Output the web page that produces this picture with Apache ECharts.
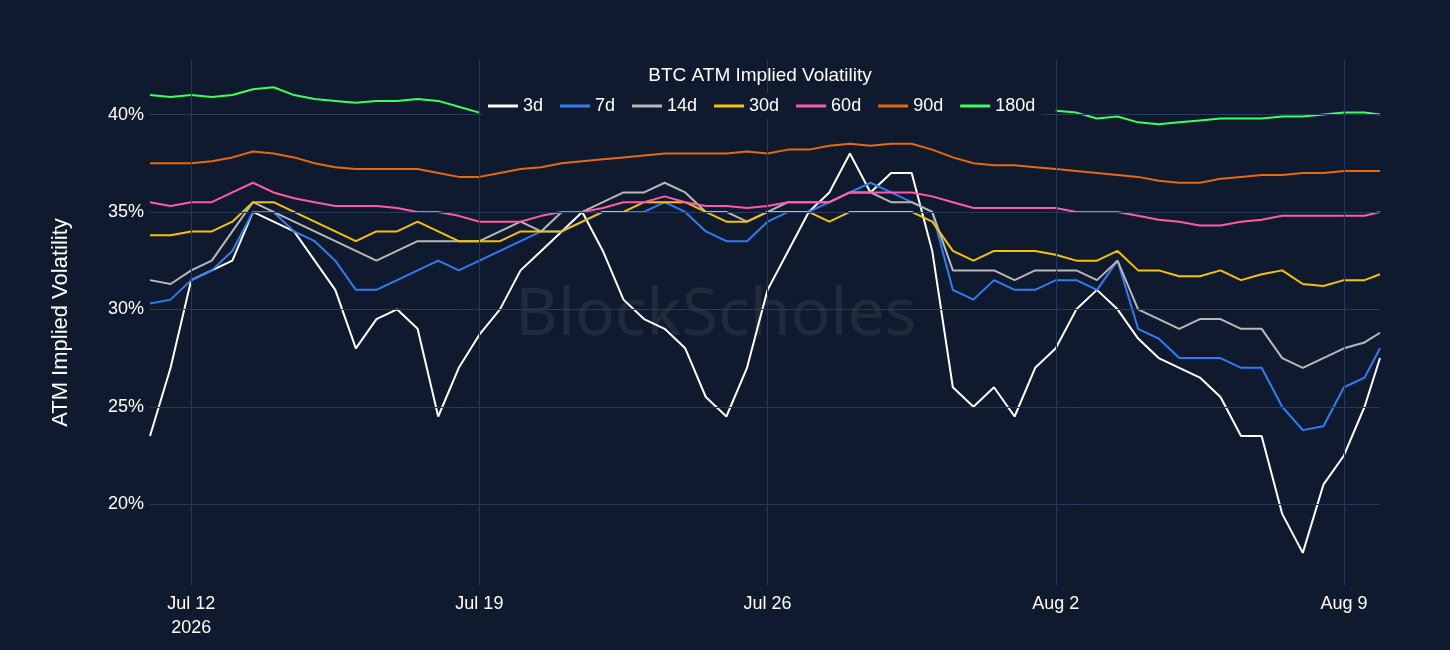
<!DOCTYPE html>
<html><head><meta charset="utf-8">
<script src="https://cdn.jsdelivr.net/npm/echarts@6/dist/echarts.min.js"></script>
<style>html,body{margin:0;padding:0;background:#0f1a2e}#c{width:1450px;height:650px}</style>
</head><body><div id="c"></div>
<script>
const START = Date.UTC(2026,6,11,0,0);
const STEP_HOURS = 12;
const END_TIME = Date.UTC(2026,7,9,21,0);
const seriesNames = ['3d','7d','14d','30d','60d','90d','180d'];
const seriesColors = ['#ffffff','#2f7cf6','#b8b8b8','#f5c400','#ff5aa8','#e8680c','#3dff5a'];
const v3d = [23.5,27,31.5,32,32.5,35,34.5,34,32.5,31,28,29.5,30,29,24.5,27,28.7,30,32,33,34,35,33,30.5,29.5,29,28,25.5,24.5,27,31,33,35,36,38,36,37,37,33,26,25,26,24.5,27,28,30,31,30,28.5,27.5,27,26.5,25.5,23.5,23.5,19.5,17.5,21,22.5,25,27.5];
const v7d = [30.3,30.5,31.5,32,33,35,35,34,33.5,32.5,31,31,31.5,32,32.5,32,32.5,33,33.5,34,34,34.5,35,35,35,35.5,35,34,33.5,33.5,34.5,35,35,35.5,36,36.5,36,35.5,35,31,30.5,31.5,31,31,31.5,31.5,31,32.5,29,28.5,27.5,27.5,27.5,27,27,25,23.8,24,26,26.5,28];
const v14d = [31.5,31.3,32,32.5,34,35.5,35,34.5,34,33.5,33,32.5,33,33.5,33.5,33.5,33.5,34,34.5,34,35,35,35.5,36,36,36.5,36,35,35,34.5,35,35.5,35.5,35.5,36,36,35.5,35.5,35,32,32,32,31.5,32,32,32,31.5,32.5,30,29.5,29,29.5,29.5,29,29,27.5,27,27.5,28,28.3,28.8];
const v30d = [33.8,33.8,34,34,34.5,35.5,35.5,35,34.5,34,33.5,34,34,34.5,34,33.5,33.5,33.5,34,34,34,34.5,35,35,35.5,35.5,35.5,35,34.5,34.5,35,35,35,34.5,35,35,35,35,34.5,33,32.5,33,33,33,32.8,32.5,32.5,33,32,32,31.7,31.7,32,31.5,31.8,32,31.3,31.2,31.5,31.5,31.8];
const v60d = [35.5,35.3,35.5,35.5,36,36.5,36,35.7,35.5,35.3,35.3,35.3,35.2,35,35,34.8,34.5,34.5,34.5,34.8,35,35,35.2,35.5,35.5,35.8,35.5,35.3,35.3,35.2,35.3,35.5,35.5,35.5,36,36,36,36,35.8,35.5,35.2,35.2,35.2,35.2,35.2,35,35,35,34.8,34.6,34.5,34.3,34.3,34.5,34.6,34.8,34.8,34.8,34.8,34.8,35];
const v90d = [37.5,37.5,37.5,37.6,37.8,38.1,38,37.8,37.5,37.3,37.2,37.2,37.2,37.2,37,36.8,36.8,37,37.2,37.3,37.5,37.6,37.7,37.8,37.9,38,38,38,38,38.1,38,38.2,38.2,38.4,38.5,38.4,38.5,38.5,38.2,37.8,37.5,37.4,37.4,37.3,37.2,37.1,37,36.9,36.8,36.6,36.5,36.5,36.7,36.8,36.9,36.9,37,37,37.1,37.1,37.1];
const v180d = [41,40.9,41,40.9,41,41.3,41.4,41,40.8,40.7,40.6,40.7,40.7,40.8,40.7,40.4,40.1,null,null,null,null,null,null,null,null,null,null,null,null,null,null,null,null,null,null,null,null,null,null,null,null,null,null,null,40.2,40.1,39.8,39.9,39.6,39.5,39.6,39.7,39.8,39.8,39.8,39.9,39.9,40,40.1,40.1,40];
const yTicks = [20,25,30,35,40];
const xTickDates = [[2026,6,12],[2026,6,19],[2026,6,26],[2026,7,2],[2026,7,9]];
const allValues = [v3d,v7d,v14d,v30d,v60d,v90d,v180d];

function tOf(i,n){ return i===n-1 ? END_TIME : START + i*STEP_HOURS*3600000; }
const xTicks = xTickDates.map(d=>Date.UTC(d[0],d[1],d[2]));
const months=['Jan','Feb','Mar','Apr','May','Jun','Jul','Aug','Sep','Oct','Nov','Dec'];
const gridColor = '#263a5e';
const FONT = 'Liberation Sans';
const series = allValues.map((arr,k)=>({
  name: seriesNames[k], type:'line', showSymbol:false, connectNulls:false,
  lineStyle:{width:2,color:seriesColors[k]}, itemStyle:{color:seriesColors[k]},
  data: arr.map((v,i)=>[tOf(i,arr.length), v]), z:3
}));
series.push({type:'line',data:[],silent:true,z:1,
  markLine:{silent:true,symbol:'none',label:{show:false},lineStyle:{color:gridColor,type:'solid',width:1},
    data: yTicks.map(v=>({yAxis:v})).concat(xTicks.map(t=>({xAxis:t})))}});
const chart = echarts.init(document.getElementById('c'));
chart.setOption({
  backgroundColor:'#0f1a2e', animation:false,
  title:{text:'BTC ATM Implied Volatility',left:755,top:61,textAlign:'center',textStyle:{color:'#ffffff',fontSize:19,fontWeight:'normal',fontFamily:FONT}},
  legend:{top:93,left:482,itemWidth:30,itemHeight:3,itemGap:17,icon:'rect',backgroundColor:'#0f1a2e',padding:[4,6],
    textStyle:{color:'#ffffff',fontSize:18,fontFamily:FONT},data:seriesNames,z:10},
  graphic:[{type:'text',left:515,top:283,z:0,silent:true,style:{text:'BlockScholes',fill:'rgba(255,255,255,0.07)',font:'66px "Noto Sans"'}}],
  grid:{left:150,right:70,top:60,bottom:65},
  xAxis:{type:'value',min:START,max:END_TIME,splitLine:{show:false},axisLine:{show:false},axisTick:{show:false},
    axisLabel:{customValues:xTicks,color:'#ffffff',fontSize:18,fontFamily:FONT,margin:7,lineHeight:24,hideOverlap:false,
      formatter:(v)=>{const d=new Date(v);const s=months[d.getUTCMonth()]+' '+d.getUTCDate();return v===xTicks[0]?s+'\n2026':s;}}},
  yAxis:{type:'value',min:15.85,max:42.8,splitLine:{show:false},axisLine:{show:false},axisTick:{show:false},
    name:'ATM Implied Volatility',nameLocation:'middle',nameGap:78,nameTextStyle:{color:'#ffffff',fontSize:22,fontFamily:FONT},
    axisLabel:{customValues:yTicks,color:'#ffffff',fontSize:18,fontFamily:FONT,margin:6,formatter:v=>v+'%'}},
  series: series
});
</script></body></html>
